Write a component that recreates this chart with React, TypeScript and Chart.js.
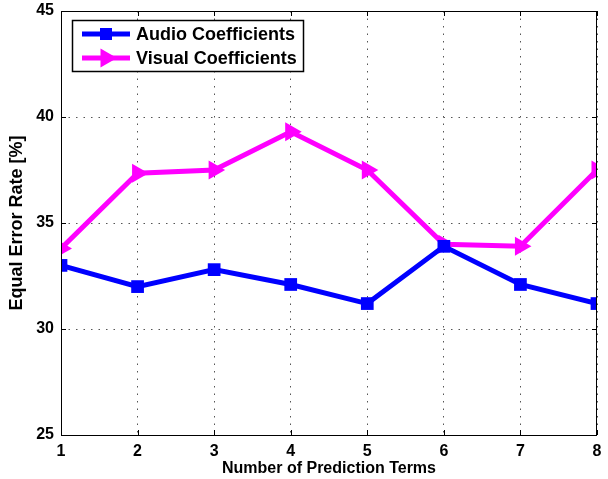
import React, { useEffect, useRef } from "react";
import { Chart, registerables } from "chart.js";

Chart.register(...registerables);

const terms = [1, 2, 3, 4, 5, 6, 7, 8];
const audioEER = [33.0, 32.0, 32.8, 32.1, 31.2, 33.9, 32.1, 31.2];
const visualEER = [33.8, 37.35, 37.5, 39.3, 37.5, 34.0, 33.9, 37.5];
const yTicks = [25, 30, 35, 40, 45];
const seriesLabels = ["Audio Coefficients", "Visual Coefficients"];

const FONT = "'Liberation Sans', Arial, Helvetica, sans-serif";

const framePlugin = {
  id: "frame",
  afterDatasetsDraw(chart: any) {
    const { ctx, chartArea: a, scales } = chart;
    ctx.save();
    ctx.strokeStyle = "#000";
    ctx.lineWidth = 1;
    ctx.strokeRect(a.left + 0.5, a.top + 0.5, a.right - a.left - 1, a.bottom - a.top);
    const tl = 5;
    ctx.beginPath();
    for (const t of terms) {
      const x = Math.round(scales.x.getPixelForValue(t)) + 0.5;
      ctx.moveTo(x, a.bottom);
      ctx.lineTo(x, a.bottom - tl);
      ctx.moveTo(x, a.top);
      ctx.lineTo(x, a.top + tl);
    }
    for (const v of yTicks) {
      const y = Math.round(scales.y.getPixelForValue(v)) + 0.5;
      ctx.moveTo(a.left, y);
      ctx.lineTo(a.left + tl, y);
      ctx.moveTo(a.right, y);
      ctx.lineTo(a.right - tl, y);
    }
    ctx.stroke();
    ctx.restore();
  },
  afterDraw(chart: any) {
    const { ctx, chartArea: a } = chart;
    const bx = a.left + 11;
    const by = a.top + 9;
    const bw = 231;
    const bh = 51;
    ctx.save();
    ctx.fillStyle = "#fff";
    ctx.fillRect(bx, by, bw, bh);
    ctx.strokeStyle = "#000";
    ctx.lineWidth = 1.5;
    ctx.strokeRect(bx + 0.5, by + 0.5, bw, bh);
    chart.data.datasets.forEach((ds: any, i: number) => {
      const cy = by + 14 + i * 24;
      ctx.strokeStyle = ds.borderColor;
      ctx.lineWidth = 5;
      ctx.beginPath();
      ctx.moveTo(bx + 10, cy);
      ctx.lineTo(bx + 58, cy);
      ctx.stroke();
      ctx.fillStyle = ds.backgroundColor;
      ctx.beginPath();
      const mx = bx + 34;
      if (i === 0) {
        ctx.fillRect(mx - 6, cy - 6, 12, 12);
      } else {
        const r = 11;
        ctx.moveTo(mx + r, cy);
        ctx.lineTo(mx - r / 2, cy - r * 0.866);
        ctx.lineTo(mx - r / 2, cy + r * 0.866);
        ctx.closePath();
        ctx.fill();
      }
      ctx.fillStyle = "#000";
      ctx.font = `bold 18px ${FONT}`;
      ctx.textBaseline = "middle";
      ctx.textAlign = "left";
      ctx.fillText(ds.label, bx + 64, cy + 1);
    });
    ctx.restore();
  },
};

export default function App() {
  const ref = useRef<HTMLCanvasElement | null>(null);
  useEffect(() => {
    document.body.style.margin = "0";
    const chart = new Chart(ref.current as HTMLCanvasElement, {
      type: "line",
      data: {
        datasets: [
          {
            label: seriesLabels[0],
            data: terms.map((t, i) => ({ x: t, y: audioEER[i] })),
            borderColor: "#0000ff",
            backgroundColor: "#0000ff",
            borderWidth: 5,
            pointStyle: "rect",
            pointRadius: 9,
            pointBorderWidth: 0,
            tension: 0,
          },
          {
            label: seriesLabels[1],
            data: terms.map((t, i) => ({ x: t, y: visualEER[i] })),
            borderColor: "#ff00ff",
            backgroundColor: "#ff00ff",
            borderWidth: 5,
            pointStyle: "triangle",
            pointRotation: 90,
            pointRadius: 11,
            pointBorderWidth: 0,
            tension: 0,
          },
        ],
      },
      options: {
        animation: false,
        responsive: false,
        maintainAspectRatio: false,
        layout: { padding: { top: 11, right: 9, left: 0, bottom: 0 } },
        plugins: { legend: { display: false }, tooltip: { enabled: false } },
        scales: {
          x: {
            type: "linear",
            min: 1,
            max: 8,
            afterBuildTicks: (s: any) => {
              s.ticks = terms.map((v) => ({ value: v }));
            },
            afterFit: (s: any) => {
              s.height = 44;
              s.paddingLeft = 0;
              s.paddingRight = 0;
            },
            grid: { color: "#555", lineWidth: 1, drawTicks: false },
            border: { display: false, dash: [1.5, 6] },
            ticks: {
              padding: 7,
              color: "#000",
              font: { family: FONT, size: 16, weight: "bold" },
              maxRotation: 0,
            },
            title: {
              display: true,
              text: "Number of Prediction Terms",
              color: "#000",
              font: { family: FONT, size: 16, weight: "bold" },
              padding: { top: 0, bottom: 1 },
            },
          },
          y: {
            min: 25,
            max: 45,
            afterBuildTicks: (s: any) => {
              s.ticks = yTicks.map((v) => ({ value: v }));
            },
            afterFit: (s: any) => {
              s.width = 61;
              s.paddingTop = 0;
              s.paddingBottom = 0;
            },
            grid: { color: "#555", lineWidth: 1, drawTicks: false },
            border: { display: false, dash: [1.5, 6] },
            ticks: {
              padding: 7,
              color: "#000",
              font: { family: FONT, size: 16, weight: "bold" },
            },
            title: {
              display: true,
              text: "Equal Error Rate [%]",
              color: "#000",
              font: { family: FONT, size: 18, weight: "bold" },
              padding: { top: 6, bottom: 4 },
            },
          },
        },
      } as any,
      plugins: [framePlugin],
    });
    return () => chart.destroy();
  }, []);
  return (
    <div style={{ position: "absolute", left: 0, top: 0, width: 608, height: 479, background: "#fff" }}>
      <canvas ref={ref} width={608} height={479} style={{ width: 608, height: 479 }} />
    </div>
  );
}
